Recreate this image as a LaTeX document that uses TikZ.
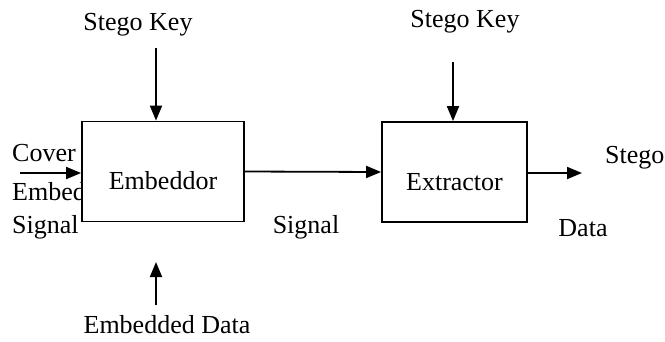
\documentclass[tikz,border=0pt]{standalone}
\usepackage{fontspec}
\setmainfont{Liberation Serif}
\usetikzlibrary{arrows.meta}

\begin{document}
\begin{tikzpicture}[x=1pt,y=-1pt,>={Triangle[length=15pt,width=12pt]},
  every node/.style={font=\fontsize{26}{30}\selectfont},
  lbl/.style={inner sep=0pt},
  blockbox/.style={draw,line width=1.8pt,fill=white,minimum height=100pt,text height=37pt}]
  \useasboundingbox (0,0) rectangle (665,341);
  % Input labels on the left (partly hidden behind the box)
  \node[lbl,anchor=west] (cover) at (12,153) {Cover};
  \node[lbl,anchor=west] (embed) at (12,192) {Embedded};
  \node[lbl,anchor=west] (insig) at (12,227) {Signal};
  % Draw the two blocks
  \node[blockbox,minimum width=162pt] (embeddor) at (163,171.5) {Embeddor};
  \node[blockbox,minimum width=145pt] (extractor) at (454.5,172) {Extractor};
  % Keys above the blocks
  \node[lbl] (keyA) at (138,25) {Stego Key};
  \node[lbl] (keyB) at (465,22) {Stego Key};
  \coordinate (keyAstart) at (156,48);
  \coordinate (keyBstart) at (453,62);
  \draw[->,line width=1.8pt] (keyAstart) -- (keyAstart |- embeddor.north);
  \draw[->,line width=1.8pt] (keyBstart) -- (keyBstart |- extractor.north);
  % Embedded data from below
  \node[lbl] (data) at (167,325) {Embedded Data};
  \coordinate (datastart) at (156,305);
  \coordinate (dataend) at (156,262);
  \draw[->,line width=1.8pt] (datastart) -- (dataend);
  % Signal path
  \coordinate (cin) at (20,173);
  \draw[->,line width=1.8pt] (cin) -- (embeddor.west |- cin);
  \draw[->,line width=1.8pt] (embeddor.east) -- (extractor.west);
  \node[lbl] (midsig) at (306,227) {Signal};
  \coordinate (sout) at (582,173);
  \draw[->,line width=1.8pt] (extractor.east |- sout) -- (sout);
  \node[lbl,anchor=west] (outstego) at (605,158) {Stego};
  \node[lbl] (outdata) at (583,228) {Data};
\end{tikzpicture}
\end{document}
